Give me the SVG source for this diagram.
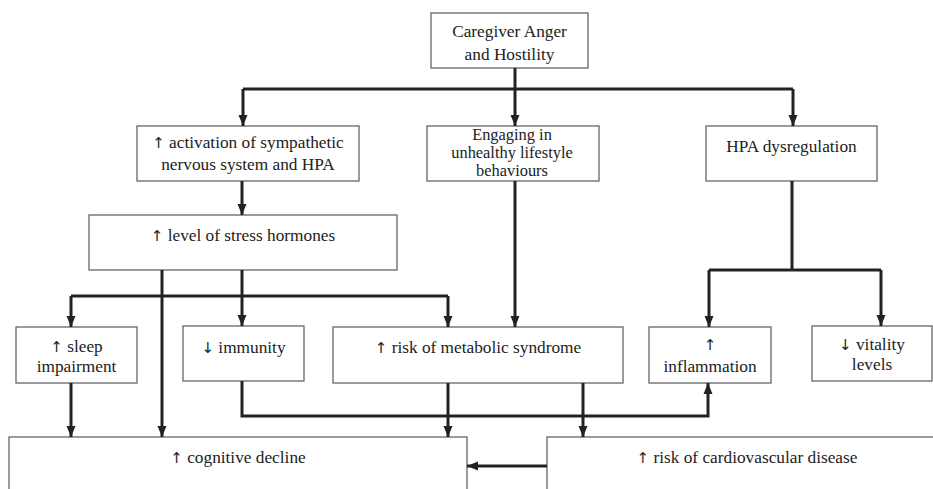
<svg xmlns="http://www.w3.org/2000/svg" width="933" height="489" viewBox="0 0 933 489">
<style>
.box{fill:#fff;stroke:#666;stroke-width:1.3}
.t{font-family:"Liberation Serif","Times New Roman",serif;font-size:17.3px;fill:#222;text-anchor:middle}
.s{font-size:16.4px}
.ar{font-family:"DejaVu Sans",sans-serif;font-size:15px;fill:#222}
.c{fill:none;stroke:#222;stroke-width:3}
.a{marker-end:url(#ah)}
</style>
<defs>
<marker id="ah" markerUnits="userSpaceOnUse" markerWidth="12" markerHeight="10" refX="11" refY="5" orient="auto" viewBox="0 0 12 10">
<path d="M0,0.5 L11,5 L0,9.5 z" fill="#222"/>
</marker>
</defs>
<rect width="933" height="489" fill="#fff"/>
<g id="n-top"><rect class="box" x="431" y="13" width="157" height="55"/><text class="t" x="509.5" y="37">Caregiver Anger</text><text class="t" x="509.5" y="60">and Hostility</text></g>
<g id="n-activation"><rect class="box" x="137" y="126" width="222" height="55"/><text class="t" x="248" y="148"><tspan class="ar">↑</tspan> activation of sympathetic</text><text class="t" x="248" y="170">nervous system and HPA</text></g>
<g id="n-engaging"><rect class="box" x="427" y="126" width="172" height="55"/><text class="t s" x="512" y="140">Engaging in</text><text class="t s" x="512" y="158">unhealthy lifestyle</text><text class="t s" x="512" y="176">behaviours</text></g>
<g id="n-hpa"><rect class="box" x="706" y="126" width="171" height="55"/><text class="t" x="791.5" y="152">HPA dysregulation</text></g>
<g id="n-stress"><rect class="box" x="89" y="215" width="308" height="55"/><text class="t" x="243" y="241"><tspan class="ar">↑</tspan> level of stress hormones</text></g>
<g id="n-sleep"><rect class="box" x="16" y="327" width="121" height="56"/><text class="t" x="76.5" y="352"><tspan class="ar">↑</tspan> sleep</text><text class="t" x="76.5" y="372">impairment</text></g>
<g id="n-immunity"><rect class="box" x="183" y="326" width="121" height="55"/><text class="t" x="243.5" y="353"><tspan class="ar">↓</tspan> immunity</text></g>
<g id="n-metabolic"><rect class="box" x="333" y="327" width="290" height="56"/><text class="t" x="478" y="353"><tspan class="ar">↑</tspan> risk of metabolic syndrome</text></g>
<g id="n-inflammation"><rect class="box" x="649" y="327" width="122" height="56"/><text class="t" x="710" y="350"><tspan class="ar">↑</tspan></text><text class="t" x="710" y="372">inflammation</text></g>
<g id="n-vitality"><rect class="box" x="812" y="326" width="120" height="55"/><text class="t" x="872" y="350"><tspan class="ar">↓</tspan> vitality</text><text class="t" x="872" y="370">levels</text></g>
<g id="n-cognitive"><rect class="box" x="9" y="437" width="458" height="70"/><text class="t" x="238" y="463"><tspan class="ar">↑</tspan> cognitive decline</text></g>
<g id="n-cardio"><rect class="box" x="547" y="437" width="400" height="70"/><text class="t" x="747" y="463"><tspan class="ar">↑</tspan> risk of cardiovascular disease</text></g>
<g id="connectors">
<path class="c" d="M515,68 V89 M243,89 H793"/>
<path class="c a" d="M243,89 V126"/>
<path class="c a" d="M515,89 V126"/>
<path class="c a" d="M793,89 V126"/>
<path class="c a" d="M242,181 V215"/>
<path class="c" d="M71,296 H448"/>
<path class="c a" d="M242,270 V326"/>
<path class="c a" d="M162,270 V437"/>
<path class="c a" d="M71,296 V327"/>
<path class="c a" d="M448,296 V327"/>
<path class="c a" d="M515,181 V327"/>
<path class="c" d="M792,181 V270 M709,270 H881"/>
<path class="c a" d="M709,270 V327"/>
<path class="c a" d="M881,270 V326"/>
<path class="c a" d="M71,383 V437"/>
<path class="c a" d="M242,381 V416 H708 V383"/>
<path class="c a" d="M448,383 V437"/>
<path class="c a" d="M583,383 V437"/>
<path class="c a" d="M547,466 H467"/>
</g>
</svg>
